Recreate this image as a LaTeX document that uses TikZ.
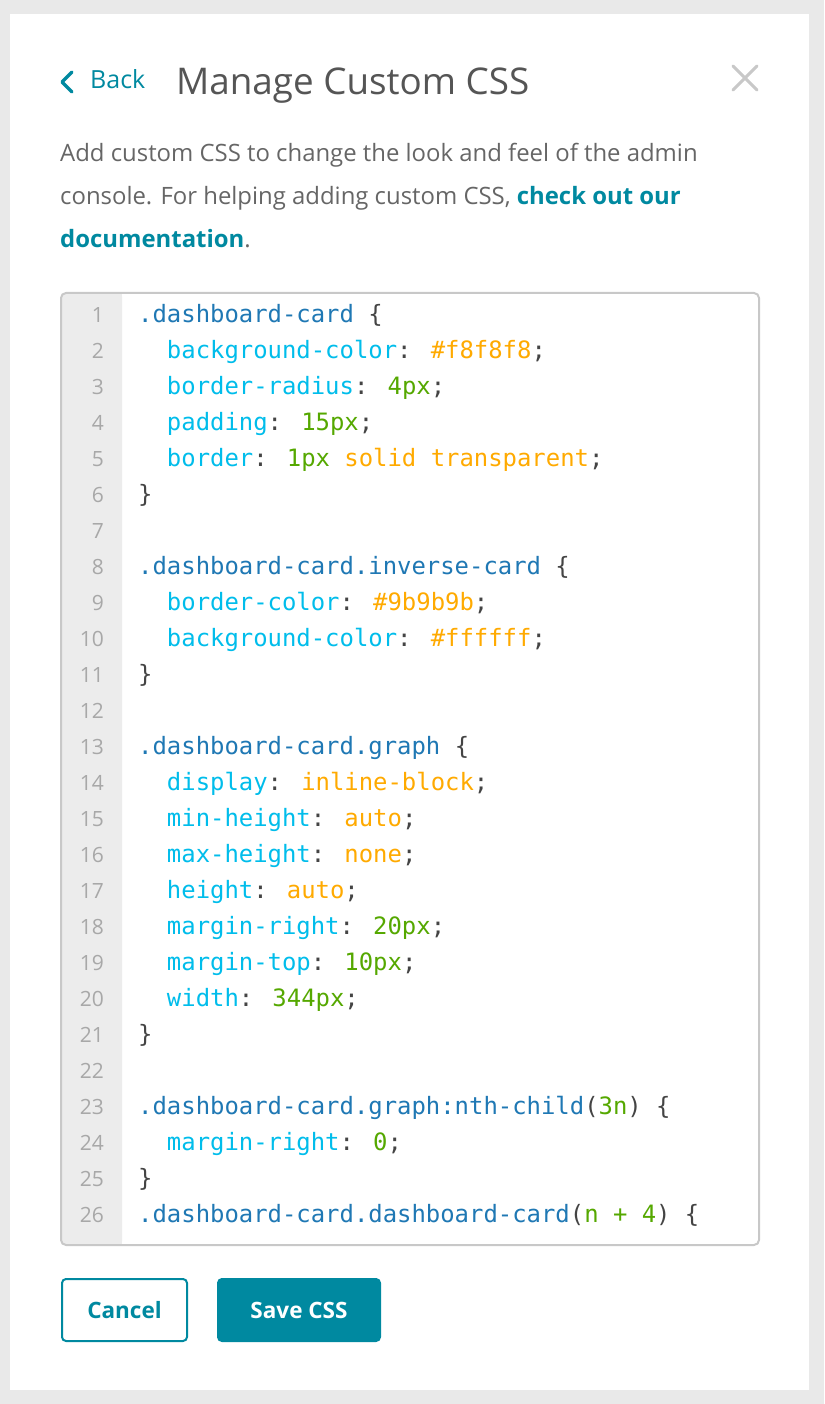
\documentclass[tikz,border=0pt]{standalone}
\usepackage{fontspec}
\setmainfont{Open Sans}
\newcommand\osemi{\bfseries}
\newfontfamily\codefont{DejaVu Sans Mono}
\definecolor{pagebg}{HTML}{E9E9E9}
\definecolor{uiteal}{HTML}{0089A0}
\definecolor{titlegray}{HTML}{555555}
\definecolor{textgray}{HTML}{666666}
\definecolor{closegray}{HTML}{C8C8C8}
\definecolor{boxborder}{HTML}{C8C8C8}
\definecolor{gutterbg}{HTML}{ECECEC}
\definecolor{lnumgray}{HTML}{A8A8A8}
\definecolor{cselc}{HTML}{1F78B4}
\definecolor{cpropc}{HTML}{00BDEB}
\definecolor{cvalc}{HTML}{FFAA00}
\definecolor{cnumc}{HTML}{55A800}
\definecolor{cpunc}{HTML}{444444}
\newcommand\csel[1]{\textcolor{cselc}{#1}}
\newcommand\cprop[1]{\textcolor{cpropc}{#1}}
\newcommand\cval[1]{\textcolor{cvalc}{#1}}
\newcommand\cnum[1]{\textcolor{cnumc}{#1}}
\newcommand\ind{\phantom{aa}}
\tikzset{
  codeline/.style={anchor=base west, inner sep=0pt, font=\codefont\fontsize{23.9}{28}\selectfont, text=cpunc},
  lnum/.style={anchor=base east, inner sep=0pt, font=\fontsize{21}{24}\selectfont, text=lnumgray},
  para/.style={anchor=base west, inner sep=0pt, font=\fontsize{23.9}{28}\selectfont, text=textgray},
  btn/.style={rounded corners=4pt, line width=2pt, draw=uiteal, minimum width=125pt, minimum height=62pt, inner sep=0pt, font=\osemi\fontsize{22.5}{26}\selectfont},
}
\begin{document}
\begin{tikzpicture}[x=1pt,y=-1pt]
\fill[pagebg] (0,0) rectangle (824,1404);
\useasboundingbox (0,0) rectangle (824,1404);
% card
\fill[white] (10,14) rectangle (809,1390);
% header
\draw[uiteal, line width=3.5pt, line cap=round, line join=round] (72,72) -- (62,82) -- (72,92);
\node (back) [anchor=base west, inner sep=0pt, text=uiteal, font=\fontsize{25}{28}\selectfont] at (90,89) {Back};
\node (title) [anchor=base west, inner sep=0pt, text=titlegray, font=\fontsize{36.8}{40}\selectfont] at (176,95) {Manage Custom CSS};
\draw[closegray, line width=3pt, line cap=round] (733,66) -- (757,90) (757,66) -- (733,90);
% paragraph
\node (p1) [para] at (60,162) {Add custom CSS to change the look and feel of the admin};
\node (p2) [para] at (60,205) {console. For helping adding custom CSS, \textcolor{uiteal}{\osemi check out our}};
\node (p3) [para] at (60,248) {\textcolor{uiteal}{\osemi documentation}.};
% code box
\fill[gutterbg, rounded corners=4pt] (61,293) rectangle (122,1245);
\fill[gutterbg] (100,293) rectangle (122,1245);
\draw[boxborder, line width=2pt, rounded corners=5pt] (61,293) rectangle (759,1245);
\foreach \i in {1,...,26} {
  \node[lnum] at (104,{322+36*(\i-1)}) {\i};
}
\node[codeline] (c1) at (138,322) {\csel{.dashboard-card} \{};
\node[codeline] (c2) at (138,358) {\ind\cprop{background-color}: \cval{\#f8f8f8};};
\node[codeline] (c3) at (138,394) {\ind\cprop{border-radius}: \cnum{4px};};
\node[codeline] (c4) at (138,430) {\ind\cprop{padding}: \cnum{15px};};
\node[codeline] (c5) at (138,466) {\ind\cprop{border}: \cnum{1px} \cval{solid transparent};};
\node[codeline] (c6) at (138,502) {\}};
\node[codeline] (c8) at (138,574) {\csel{.dashboard-card.inverse-card} \{};
\node[codeline] (c9) at (138,610) {\ind\cprop{border-color}: \cval{\#9b9b9b};};
\node[codeline] (c10) at (138,646) {\ind\cprop{background-color}: \cval{\#ffffff};};
\node[codeline] (c11) at (138,682) {\}};
\node[codeline] (c13) at (138,754) {\csel{.dashboard-card.graph} \{};
\node[codeline] (c14) at (138,790) {\ind\cprop{display}: \cval{inline-block};};
\node[codeline] (c15) at (138,826) {\ind\cprop{min-height}: \cval{auto};};
\node[codeline] (c16) at (138,862) {\ind\cprop{max-height}: \cval{none};};
\node[codeline] (c17) at (138,898) {\ind\cprop{height}: \cval{auto};};
\node[codeline] (c18) at (138,934) {\ind\cprop{margin-right}: \cnum{20px};};
\node[codeline] (c19) at (138,970) {\ind\cprop{margin-top}: \cnum{10px};};
\node[codeline] (c20) at (138,1006) {\ind\cprop{width}: \cnum{344px};};
\node[codeline] (c21) at (138,1042) {\}};
\node[codeline] (c23) at (138,1114) {\csel{.dashboard-card.graph:nth-child}(\cnum{3n}) \{};
\node[codeline] (c24) at (138,1150) {\ind\cprop{margin-right}: \cnum{0};};
\node[codeline] (c25) at (138,1186) {\}};
\node[codeline] (c26) at (138,1222) {\csel{.dashboard-card.dashboard-card}(\cnum{n + 4}) \{};
% buttons
\node (cancel) [btn, fill=white, text=uiteal, anchor=north west] at (61,1278) {Cancel};
\node (save) [btn, fill=uiteal, text=white, minimum width=162pt, anchor=north west] at (217,1278) {Save CSS};
\end{tikzpicture}
\end{document}
